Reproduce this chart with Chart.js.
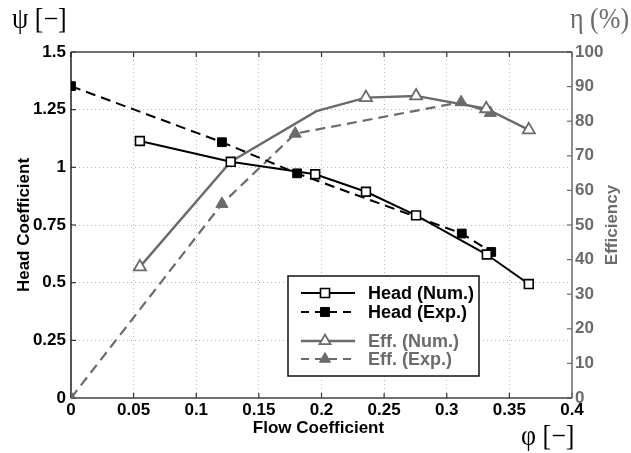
<!DOCTYPE html>
<html>
<head>
<meta charset="utf-8">
<script src="https://cdn.jsdelivr.net/npm/chart.js@4/dist/chart.umd.min.js"></script>
<style>
  html, body { margin: 0; padding: 0; background: #fff; }
  #wrap { position: relative; width: 631px; height: 453px; }
  canvas { position: absolute; left: 0; top: 0; }
  .lbl { position: absolute; font-family: "Liberation Serif", "DejaVu Serif", serif; font-size: 26px; line-height: 26px; white-space: nowrap; transform: scaleY(1.1); transform-origin: left top; }
</style>
</head>
<body>
<div id="wrap">
  <canvas id="c" width="631" height="453"></canvas>
  <div class="lbl" id="psi" style="left:12px; top:5px; color:#000;">ψ [−]</div>
  <div class="lbl" id="eta" style="left:570px; top:5px; color:#6b6b6b;">η (%)</div>
  <div class="lbl" id="phi" style="left:521px; top:422px; color:#000;">φ [−]</div>
</div>
<script>
// ---- data ----
const headNumPhi = [0.055, 0.1275, 0.195, 0.2355, 0.2755, 0.332, 0.3655];
const headNumPsi = [1.114, 1.024, 0.970, 0.894, 0.792, 0.622, 0.494];

const headExpPhi = [0, 0.1205, 0.1805, 0.312, 0.3355];
const headExpPsi = [1.352, 1.109, 0.974, 0.713, 0.633];

const effNumPhi = [0.055, 0.1275, 0.196, 0.2355, 0.2755, 0.3315, 0.3655];
const effNumEta = [37.9, 68.3, 82.9, 86.8, 87.3, 83.6, 77.5];
const effNumMarker = [true, false, false, true, true, true, true];

const effExpPhi = [0, 0.1205, 0.179, 0.3115, 0.3348];
const effExpEta = [0, 56.1, 76.4, 85.5, 82.4];

const xTickLabels = ['0', '0.05', '0.1', '0.15', '0.2', '0.25', '0.3', '0.35', '0.4'];
const yTickLabels = ['0', '0.25', '0.5', '0.75', '1', '1.25', '1.5'];
const y2TickLabels = ['0', '10', '20', '30', '40', '50', '60', '70', '80', '90', '100'];

const legendLabels = ['Head (Num.)', 'Head (Exp.)', 'Eff. (Num.)', 'Eff. (Exp.)'];

// ---- styles ----
const BLACK = '#000000';
const GRAY = '#6b6b6b';
const FONT = '"Liberation Sans", Arial, Helvetica, sans-serif';

function pts(xs, ys) { return xs.map((x, i) => ({ x: x, y: ys[i] })); }

const datasets = [
  {
    label: legendLabels[0], data: pts(headNumPhi, headNumPsi), yAxisID: 'y',
    borderColor: BLACK, borderWidth: 2, pointStyle: 'rect', pointRadius: 6.2,
    pointBorderWidth: 1.6, pointBackgroundColor: '#fff', pointBorderColor: BLACK, order: 1
  },
  {
    label: legendLabels[1], data: pts(headExpPhi, headExpPsi), yAxisID: 'y',
    borderColor: BLACK, borderWidth: 2, borderDash: [10, 6], pointStyle: 'rect', pointRadius: 6.2,
    pointBorderWidth: 1, pointBackgroundColor: BLACK, pointBorderColor: BLACK, order: 2
  },
  {
    label: legendLabels[2], data: pts(effNumPhi, effNumEta), yAxisID: 'y2',
    borderColor: GRAY, borderWidth: 2.4, pointStyle: 'triangle',
    pointRadius: effNumMarker.map(m => m ? 7 : 0),
    pointBorderWidth: 1.8, pointBackgroundColor: '#fff', pointBorderColor: GRAY, order: 3
  },
  {
    label: legendLabels[3], data: pts(effExpPhi, effExpEta), yAxisID: 'y2',
    borderColor: GRAY, borderWidth: 2.2, borderDash: [10, 6], pointStyle: 'triangle', pointRadius: 7,
    pointBorderWidth: 1, pointBackgroundColor: GRAY, pointBorderColor: GRAY, order: 4
  }
];

function drawMarker(ctx, style, x, y, r, fill, stroke, lw) {
  ctx.save();
  ctx.beginPath();
  if (style === 'rect') {
    const s = r * Math.SQRT1_2;
    ctx.rect(x - s, y - s, 2 * s, 2 * s);
  } else {
    const xo = Math.cos(Math.PI / 6) * r;
    ctx.moveTo(x, y - r);
    ctx.lineTo(x - xo, y + r / 2);
    ctx.lineTo(x + xo, y + r / 2);
    ctx.closePath();
  }
  ctx.fillStyle = fill; ctx.fill();
  ctx.lineWidth = lw; ctx.strokeStyle = stroke; ctx.stroke();
  ctx.restore();
}

const framePlugin = {
  id: 'frame',
  beforeDatasetsDraw(chart) {
    const { ctx, chartArea: a, scales } = chart;
    ctx.save();
    ctx.lineCap = 'butt';
    // inward tick marks
    ctx.lineWidth = 1.2;
    ctx.strokeStyle = '#333';
    xTickLabels.forEach(t => {
      const px = scales.x.getPixelForValue(parseFloat(t));
      ctx.beginPath(); ctx.moveTo(px, a.bottom); ctx.lineTo(px, a.bottom - 5); ctx.stroke();
      ctx.beginPath(); ctx.moveTo(px, a.top); ctx.lineTo(px, a.top + 5); ctx.stroke();
    });
    yTickLabels.forEach(t => {
      const py = scales.y.getPixelForValue(parseFloat(t));
      ctx.beginPath(); ctx.moveTo(a.left, py); ctx.lineTo(a.left + 5, py); ctx.stroke();
    });
    ctx.strokeStyle = GRAY;
    y2TickLabels.forEach(t => {
      const py = scales.y2.getPixelForValue(parseFloat(t));
      ctx.beginPath(); ctx.moveTo(a.right, py); ctx.lineTo(a.right - 5, py); ctx.stroke();
    });
    // frame
    ctx.lineWidth = 1.5;
    ctx.strokeStyle = '#444';
    ctx.beginPath(); ctx.moveTo(a.left, a.top); ctx.lineTo(a.right, a.top); ctx.stroke();
    ctx.beginPath(); ctx.moveTo(a.left, a.bottom); ctx.lineTo(a.right, a.bottom); ctx.stroke();
    ctx.strokeStyle = '#222';
    ctx.beginPath(); ctx.moveTo(a.left, a.top); ctx.lineTo(a.left, a.bottom); ctx.stroke();
    ctx.strokeStyle = GRAY;
    ctx.beginPath(); ctx.moveTo(a.right, a.top); ctx.lineTo(a.right, a.bottom); ctx.stroke();
    ctx.restore();
  },
  afterDraw(chart) {
    const { ctx, chartArea: a } = chart;
    ctx.save();
    // axis titles
    ctx.font = 'bold 17px ' + FONT;
    ctx.textAlign = 'center';
    ctx.textBaseline = 'middle';
    const midY = (a.top + a.bottom) / 2;
    ctx.fillStyle = BLACK;
    ctx.save(); ctx.translate(24, midY); ctx.rotate(-Math.PI / 2); ctx.fillText('Head Coefficient', 0, 0); ctx.restore();
    ctx.fillStyle = GRAY;
    ctx.save(); ctx.translate(612, midY); ctx.rotate(-Math.PI / 2); ctx.fillText('Efficiency', 0, 0); ctx.restore();
    ctx.fillStyle = BLACK;
    ctx.fillText('Flow Coefficient', (a.left + a.right) / 2 - 3, 428);

    // legend box
    const bx = a.left + 217, by = a.top + 224, bw = 191, bh = 100;
    ctx.fillStyle = '#fff';
    ctx.fillRect(bx, by, bw, bh);
    ctx.lineWidth = 1.5; ctx.strokeStyle = '#111';
    ctx.strokeRect(bx, by, bw, bh);
    const rows = [by + 17, by + 36, by + 65, by + 83];
    ctx.font = 'bold 18px ' + FONT;
    ctx.textAlign = 'left';
    datasets.forEach((ds, i) => {
      const ry = rows[i];
      ctx.save();
      ctx.strokeStyle = ds.borderColor;
      ctx.lineWidth = ds.borderWidth;
      ctx.setLineDash(ds.borderDash ? [8, 6] : []);
      ctx.beginPath(); ctx.moveTo(bx + 13, ry); ctx.lineTo(bx + 67, ry); ctx.stroke();
      ctx.restore();
      drawMarker(ctx, ds.pointStyle, bx + 37, ry, 6.4, ds.pointBackgroundColor, ds.pointBorderColor, ds.pointBorderWidth);
      ctx.fillStyle = ds.borderColor;
      ctx.fillText(ds.label, bx + 80, ry + 1);
    });
    ctx.restore();
  }
};

new Chart(document.getElementById('c'), {
  type: 'line',
  data: { datasets: datasets },
  plugins: [framePlugin],
  options: {
    responsive: false,
    animation: false,
    devicePixelRatio: 1,
    layout: { padding: { top: 52, left: 0, right: 0, bottom: 0 } },
    plugins: { legend: { display: false }, tooltip: { enabled: false } },
    elements: { line: { tension: 0, fill: false } },
    scales: {
      x: {
        type: 'linear', min: 0, max: 0.4,
        afterFit: s => { s.height = 55; },
        afterBuildTicks: s => { s.ticks = xTickLabels.map(t => ({ value: parseFloat(t) })); },
        ticks: {
          callback: (v, i) => xTickLabels[i],
          font: { family: FONT, size: 17, weight: 'bold' }, color: BLACK, padding: 2, maxRotation: 0, autoSkip: false
        },
        grid: { color: '#b8b8b8', lineWidth: 1, drawTicks: false },
        border: { display: false, dash: [1, 3] }
      },
      y: {
        type: 'linear', position: 'left', min: 0, max: 1.5,
        afterFit: s => { s.width = 71; },
        afterBuildTicks: s => { s.ticks = yTickLabels.map(t => ({ value: parseFloat(t) })); },
        ticks: {
          callback: (v, i) => yTickLabels[i],
          font: { family: FONT, size: 17, weight: 'bold' }, color: BLACK, padding: 5, autoSkip: false
        },
        grid: { color: '#b8b8b8', lineWidth: 1, drawTicks: false },
        border: { display: false, dash: [1, 3] }
      },
      y2: {
        type: 'linear', position: 'right', min: 0, max: 100,
        afterFit: s => { s.width = 59; },
        afterBuildTicks: s => { s.ticks = y2TickLabels.map(t => ({ value: parseFloat(t) })); },
        ticks: {
          callback: (v, i) => y2TickLabels[i],
          font: { family: FONT, size: 17, weight: 'bold' }, color: GRAY, padding: 3, autoSkip: false
        },
        grid: { display: false, drawTicks: false },
        border: { display: false }
      }
    }
  }
});
</script>
</body>
</html>
